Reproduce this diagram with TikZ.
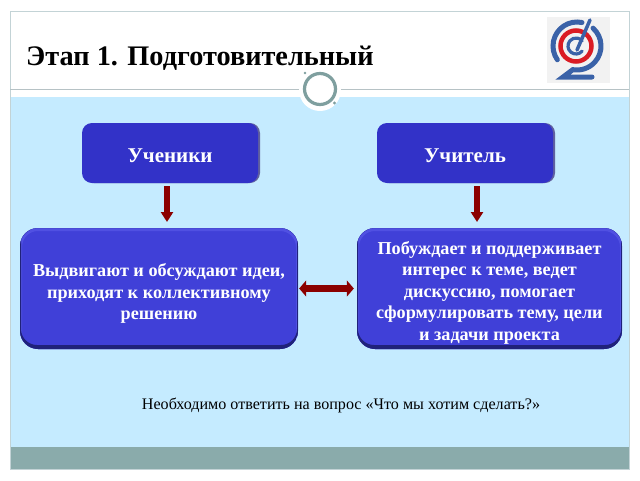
\documentclass[tikz,border=0pt]{standalone}
\usepackage{fontspec}
\setmainfont{Liberation Serif}
\usetikzlibrary{arrows.meta}
\definecolor{frameC}{HTML}{C3D3D6}
\definecolor{skyC}{HTML}{C5EBFF}
\definecolor{barC}{HTML}{8AABAB}
\definecolor{smallC}{HTML}{3232C8}
\definecolor{bigC}{HTML}{4040D8}
\definecolor{bigDark}{HTML}{20227A}
\definecolor{bigLight}{HTML}{5050E2}
\definecolor{arrowC}{HTML}{8B0000}
\definecolor{ringC}{HTML}{7F9F9F}
\definecolor{logoB}{HTML}{3A62A8}
\definecolor{logoR}{HTML}{DA1C24}
\tikzset{
  smallbox/.style={rounded corners=10, minimum width=176, minimum height=60, inner sep=0, fill=smallC, text=white,
    font=\fontsize{21}{24}\selectfont\bfseries,
    preaction={fill=gray!75!blue, transform canvas={xshift=2pt}}},
  bigbox/.style={rounded corners=18, minimum height=121, inner sep=3, fill=bigC,
    text=white, align=center,
    font=\fontsize{18.2}{21.5}\selectfont\bfseries,
    path picture={
      \fill[bigLight,even odd rule] (path picture bounding box.south west) rectangle (path picture bounding box.north east)
        [rounded corners=16] ([shift={(2,3)}]path picture bounding box.north west) rectangle ([shift={(-2,300)}]path picture bounding box.south east);
      \fill[bigDark,even odd rule] (path picture bounding box.south west) rectangle (path picture bounding box.north east)
        [rounded corners=16] ([shift={(1,-300)}]path picture bounding box.north west) rectangle ([shift={(-1,-4)}]path picture bounding box.south east);
    }},
  flow/.style={draw=arrowC, line width=5.5, -{Triangle[width=12,length=10]}, shorten >=6, shorten <=3},
  flowboth/.style={draw=arrowC, line width=6.5, {Triangle[width=16,length=7]}-{Triangle[width=16,length=7]}, shorten >=3, shorten <=1},
  lB/.style={draw=logoB, line width=5, line cap=round},
}
\begin{document}
\begin{tikzpicture}[x=1pt,y=-1pt]
\useasboundingbox (0,0) rectangle (640,480);
\fill[white] (0,0) rectangle (640,480);
\fill[skyC] (10,97) rectangle (629,447);
\fill[barC] (10,447) rectangle (629,469);
\draw[frameC, line width=1] (10,11) rectangle (629,469);
\draw[frameC!80!gray, line width=.8] (10,89) -- (629,89);

\node[anchor=base west, inner sep=0, font=\fontsize{28.3}{32}\selectfont\bfseries] (title) at (26,65) {Этап 1. Подготовительный};

% ring ornament
\fill[white] (320,90) circle (21);
\draw[ringC, line width=3.2] (320,89) circle (15.5);
\fill[ringC] (305,73) circle (1.3);
\fill[ringC] (334.5,103) circle (1.6);

% logo
\fill[black!5] (547,17) rectangle (610,83);
\draw[lB] (577,46) ++(-78:24) arc (-78:-215:24);
\draw[logoR, line width=4.5] (576,46) circle (15.5);
\draw[logoB, line width=3.2, line cap=round] (576,46) ++(40:8) arc (40:320:8);
\draw[logoB, line width=3.5, line cap=round] (590,20) -- (577,50);
\draw[logoB, line width=5, line cap=round] (577,46) ++(-48:24) arc (-48:100:24) -- (563,77) -- (592,77);

\node[smallbox] (pupils) at (170,153) {\rule{0pt}{18.5pt}Ученики};
\node[smallbox] (teacher) at (465,153) {\rule{0pt}{18.5pt}Учитель};
\node[bigbox, minimum width=278] (pupilsdo) at (159,288.5) {\rule{0pt}{23pt}Выдвигают и обсуждают идеи,\\приходят к коллективному\\решению};
\node[bigbox, minimum width=265] (teacherdo) at (489.5,288.5) {\rule{0pt}{21pt}Побуждает и поддерживает\\интерес к теме, ведет\\дискуссию, помогает\\сформулировать тему, цели\\и задачи проекта};

\coordinate (p1) at (167,183);
\coordinate (p2) at (167,228);
\coordinate (t1) at (477,183);
\coordinate (t2) at (477,228);
\draw[flow] (p1) -- (p2);
\draw[flow] (t1) -- (t2);
\draw[flowboth] (pupilsdo) -- (teacherdo);

\node[anchor=base, inner sep=0, font=\fontsize{16.1}{19}\selectfont] (question) at (341,409) {Необходимо ответить на вопрос «Что мы хотим сделать?»};
\end{tikzpicture}
\end{document}
